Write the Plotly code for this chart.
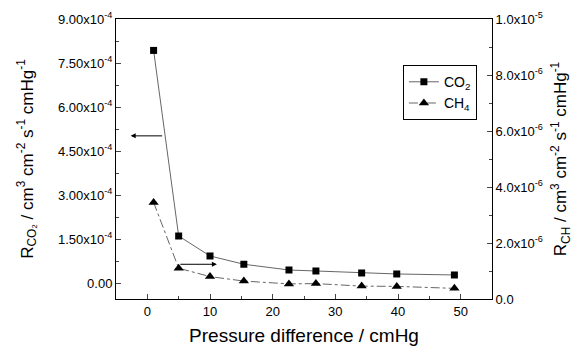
import plotly.graph_objects as go

pressure = [1, 5, 10, 15.4, 22.6, 26.9, 34.2, 39.8, 49.0]
r_co2 = [7.93e-4, 1.61e-4, 0.93e-4, 0.648e-4, 0.453e-4, 0.419e-4, 0.351e-4, 0.317e-4, 0.283e-4]
r_ch4 = [3.45e-6, 1.10e-6, 0.80e-6, 0.64e-6, 0.54e-6, 0.55e-6, 0.46e-6, 0.45e-6, 0.38e-6]

left_tickvals = [0, 1.5e-4, 3.0e-4, 4.5e-4, 6.0e-4, 7.5e-4, 9.0e-4]
left_ticktext = ["0.00", "1.50x10<sup>-4</sup>", "3.00x10<sup>-4</sup>", "4.50x10<sup>-4</sup>",
                 "6.00x10<sup>-4</sup>", "7.50x10<sup>-4</sup>", "9.00x10<sup>-4</sup>"]
right_tickvals = [0, 2e-6, 4e-6, 6e-6, 8e-6, 1e-5]
right_ticktext = ["0.0", "2.0x10<sup>-6</sup>", "4.0x10<sup>-6</sup>", "6.0x10<sup>-6</sup>",
                  "8.0x10<sup>-6</sup>", "1.0x10<sup>-5</sup>"]
x_tickvals = [0, 10, 20, 30, 40, 50]

FONT = "Liberation Sans, Arial, sans-serif"

fig = go.Figure()
fig.add_trace(go.Scatter(
    x=pressure, y=r_co2, name="CO<sub>2</sub>", mode="lines+markers",
    line=dict(color="#555555", width=0.9),
    marker=dict(symbol="square", size=7, color="black"),
    yaxis="y"))
fig.add_trace(go.Scatter(
    x=pressure, y=r_ch4, name="CH<sub>4</sub>", mode="lines+markers",
    line=dict(color="#555555", width=0.9, dash="dashdot"),
    marker=dict(symbol="triangle-up", size=9, color="black"),
    yaxis="y2"))

fig.update_layout(
    width=575, height=346,
    margin=dict(l=116, r=83, t=19, b=47, autoexpand=False),
    paper_bgcolor="white", plot_bgcolor="white",
    font=dict(family=FONT, color="black", size=13),
    showlegend=True,
    legend=dict(x=0.763, y=0.835, xanchor="left", yanchor="top",
                bordercolor="black", borderwidth=1, bgcolor="white",
                font=dict(size=14, family=FONT),
                tracegroupgap=0, itemwidth=30,
                ),
    xaxis=dict(range=[-5, 55], tickvals=x_tickvals, ticks="inside", ticklen=5,
               showline=True, linecolor="black", linewidth=1, mirror=True,
               showgrid=False, zeroline=False,
               minor=dict(ticks="inside", ticklen=3, dtick=5, tick0=0, showgrid=False),
               tickfont=dict(size=13),
               title=dict(text="Pressure difference / cmHg", font=dict(size=19), standoff=12)),
    yaxis=dict(range=[-0.535e-4, 9e-4], tickvals=left_tickvals, ticktext=left_ticktext,
               ticks="inside", ticklen=5, showline=True, linecolor="black", linewidth=1,
               showgrid=False, zeroline=False,
               minor=dict(ticks="inside", ticklen=3, tickvals=[0.75e-4, 2.25e-4, 3.75e-4, 5.25e-4, 6.75e-4, 8.25e-4]),
               tickfont=dict(size=13),
               title=dict(text="R<sub>CO₂</sub> / cm<sup>3</sup> cm<sup>-2</sup> s<sup>-1</sup> cmHg<sup>-1</sup>",
                          font=dict(size=17), standoff=20)),
    yaxis2=dict(range=[0, 1e-5], overlaying="y", side="right",
                tickvals=right_tickvals, ticktext=right_ticktext,
                ticks="inside", ticklen=5, showline=True, linecolor="black", linewidth=1,
                showgrid=False, zeroline=False,
                minor=dict(ticks="inside", ticklen=3, tickvals=[1e-6, 3e-6, 5e-6, 7e-6, 9e-6]),
                tickfont=dict(size=13),
                title=dict(text="R<sub>CH</sub> / cm<sup>3</sup> cm<sup>-2</sup> s<sup>-1</sup> cmHg<sup>-1</sup>",
                           font=dict(size=17), standoff=12)),
)

fig.add_annotation(x=-2.66, y=5.02e-4, xref="x", yref="y", ax=33, ay=0,
                   showarrow=True, arrowhead=2, arrowsize=1, arrowwidth=1, arrowcolor="black", text="")
fig.add_annotation(x=11.1, y=1.24e-6, xref="x", yref="y2", ax=-38, ay=0,
                   showarrow=True, arrowhead=2, arrowsize=1, arrowwidth=1, arrowcolor="black", text="")

fig.write_html("out.html")
